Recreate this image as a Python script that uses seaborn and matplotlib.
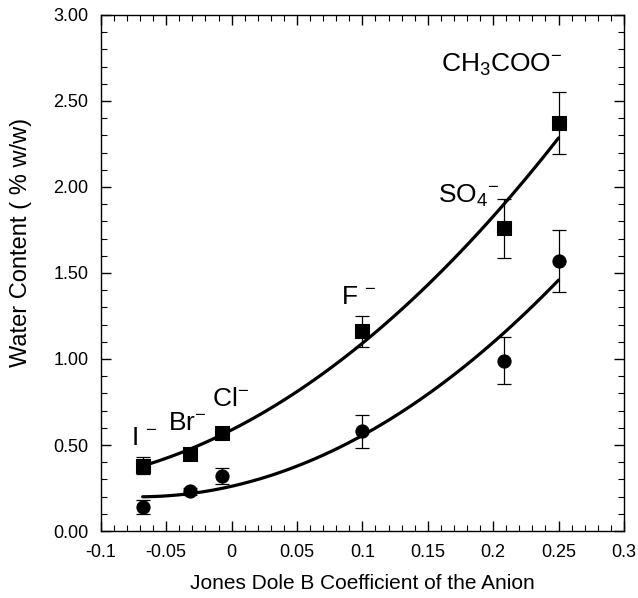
import numpy as np
import pandas as pd
import matplotlib
matplotlib.use('Agg')
import matplotlib.pyplot as plt
import seaborn as sns
from matplotlib.ticker import MultipleLocator, FormatStrFormatter

# Jones-Dole B coefficient of each anion
anions = ['I', 'Br', 'Cl', 'F', 'SO4', 'CH3COO']
b_coef = [-0.068, -0.032, -0.007, 0.100, 0.208, 0.250]

# water content, square series and its error
water_sq = [0.38, 0.45, 0.57, 1.16, 1.76, 2.37]
err_sq = [0.05, 0.02, 0.02, 0.09, 0.17, 0.18]

# water content, circle series and its error
water_ci = [0.14, 0.23, 0.32, 0.58, 0.99, 1.57]
err_ci = [0.04, 0.02, 0.045, 0.095, 0.135, 0.18]

# anion labels and where they sit
label_text = [r'I $^{-}$', r'Br$^{-}$', r'Cl$^{-}$', r'F $^{-}$', r'SO$_{4}$$^{-}$', r'CH$_{3}$COO$^{-}$']
label_x = [-0.077, -0.049, -0.015, 0.084, 0.158, 0.160]
label_y = [0.54, 0.63, 0.77, 1.36, 1.95, 2.71]

x_ticks = [-0.1, -0.05, 0, 0.05, 0.1, 0.15, 0.2, 0.25, 0.3]
x_ticklabels = ['-0.1', '-0.05', '0', '0.05', '0.1', '0.15', '0.2', '0.25', '0.3']

sq = pd.DataFrame({'B': b_coef, 'water': water_sq, 'err': err_sq})
ci = pd.DataFrame({'B': b_coef, 'water': water_ci, 'err': err_ci})

sns.set_style('ticks')
plt.rcParams['font.family'] = ['Liberation Sans', 'DejaVu Sans']
plt.rcParams['mathtext.fontset'] = 'custom'
plt.rcParams['mathtext.rm'] = 'Liberation Sans'
plt.rcParams['mathtext.it'] = 'Liberation Sans'
plt.rcParams['mathtext.default'] = 'regular'
plt.rcParams['axes.unicode_minus'] = False
for k in ['text.color', 'axes.labelcolor', 'xtick.color', 'ytick.color', 'axes.edgecolor']:
    plt.rcParams[k] = 'black'

fig = plt.figure(figsize=(6.38, 5.98), dpi=100)
ax = fig.add_axes([0.158, 0.112, 0.820, 0.863])

# quadratic fits
sns.regplot(data=sq, x='B', y='water', order=2, ci=None, scatter=False,
            line_kws={'color': 'black', 'lw': 2.3}, ax=ax)
sns.regplot(data=ci, x='B', y='water', order=2, ci=None, scatter=False,
            line_kws={'color': 'black', 'lw': 2.3}, ax=ax)

# error bars
ax.errorbar(sq['B'], sq['water'], yerr=sq['err'], fmt='none', ecolor='black',
            elinewidth=0.9, capsize=5, capthick=0.9)
ax.errorbar(ci['B'], ci['water'], yerr=ci['err'], fmt='none', ecolor='black',
            elinewidth=0.9, capsize=5, capthick=0.9)

# points
sns.scatterplot(data=sq, x='B', y='water', marker='s', s=95, color='black',
                edgecolor='black', ax=ax, zorder=5)
sns.scatterplot(data=ci, x='B', y='water', marker='o', s=90, color='black',
                edgecolor='black', ax=ax, zorder=5)

for t, x, y in zip(label_text, label_x, label_y):
    ax.text(x, y, t, fontsize=19, ha='left', va='center')

ax.set_xlim(-0.1, 0.3)
ax.set_ylim(0, 3.0)
ax.set_xticks(x_ticks)
ax.set_xticklabels(x_ticklabels)
ax.xaxis.set_minor_locator(MultipleLocator(0.01))
ax.yaxis.set_major_locator(MultipleLocator(0.5))
ax.yaxis.set_minor_locator(MultipleLocator(0.1))
ax.yaxis.set_major_formatter(FormatStrFormatter('%.2f'))
ax.tick_params(which='both', direction='in', top=True, right=True, labelsize=13)
ax.tick_params(which='major', length=7, width=1)
ax.tick_params(which='minor', length=4, width=0.8)
ax.tick_params(axis='x', pad=9)
ax.tick_params(axis='y', pad=9)
for s in ax.spines.values():
    s.set_linewidth(1)

ax.set_xlabel('Jones Dole B Coefficient of the Anion', fontsize=15, labelpad=10)
ax.set_ylabel('Water Content ( % w/w)', fontsize=17)
ax.yaxis.set_label_coords(-0.132, 0.56)

fig.savefig('out.png', dpi=100)
